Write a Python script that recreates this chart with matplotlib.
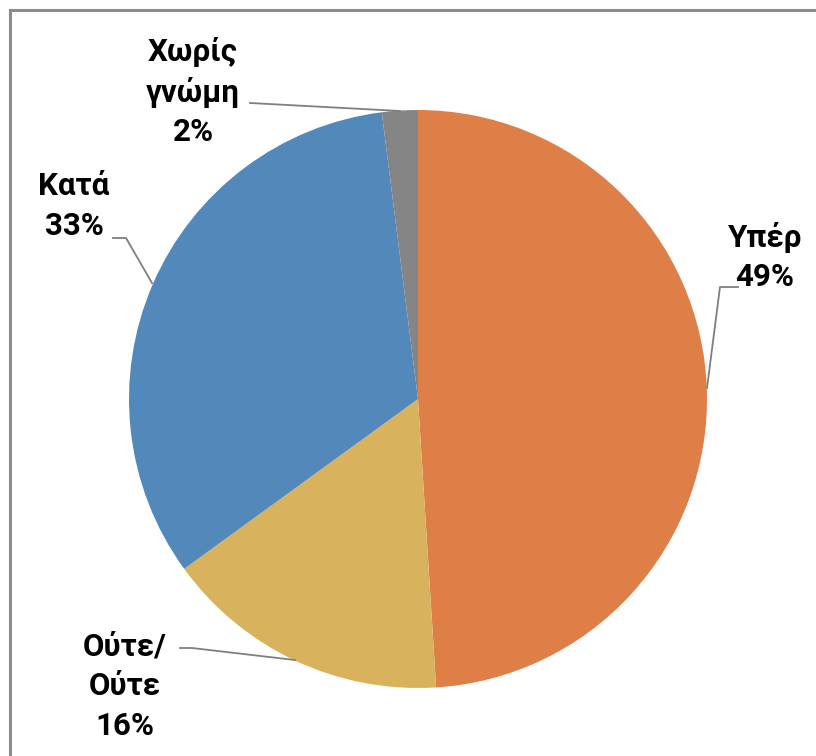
import matplotlib.pyplot as plt
from matplotlib.patches import Rectangle

plt.rcParams['font.family'] = ['Roboto', 'DejaVu Sans']

labels = ['Υπέρ', 'Ούτε/\nΟύτε', 'Κατά', 'Χωρίς\nγνώμη']
values = [49, 16, 33, 2]
colors = ['#DD7F47', '#D9B25E', '#5289BA', '#858585']

W, H = 816, 756
fig = plt.figure(figsize=(W / 100, H / 100), dpi=100)
ax = fig.add_axes([0, 0, 1, 1])
ax.set_xlim(0, W)
ax.set_ylim(0, H)
ax.set_aspect('equal')
ax.axis('off')

# outer frame of the chart area (cut at right/bottom)
ax.add_patch(Rectangle((10, -20), 830, H - 10 + 20, fill=False, ec='#8c8c8c', lw=2.2))

cx, cy, r = 418, H - 399, 289
wedges, _ = ax.pie(values, colors=colors, startangle=90, counterclock=False,
                   center=(cx, cy), radius=r, frame=True,
                   wedgeprops=dict(linewidth=0))
ax.set_xlim(0, W)
ax.set_ylim(0, H)
ax.axis('off')

# label text: (x, y of text centre in pixels from top), leader path in pixels from top
label_pos = [
    ((765, 257), [(738, 287), (720, 287), (707, 388)]),
    ((125, 686), [(180, 648), (192, 648), (295, 660)]),
    ((74, 206), [(113, 238), (126, 238), (152, 283)]),
    ((193, 92), [(250, 103), (400, 111)]),
]

for lab, val, (tp, path) in zip(labels, values, label_pos):
    ax.text(tp[0], H - tp[1], f'{lab}\n{val}%', ha='center', va='center',
            fontsize=22.5, fontweight='bold', linespacing=1.4, color='black')
    xs = [p[0] for p in path]
    ys = [H - p[1] for p in path]
    ax.plot(xs, ys, color='#7f7f7f', lw=1.3)

fig.savefig('out.png', dpi=100)
